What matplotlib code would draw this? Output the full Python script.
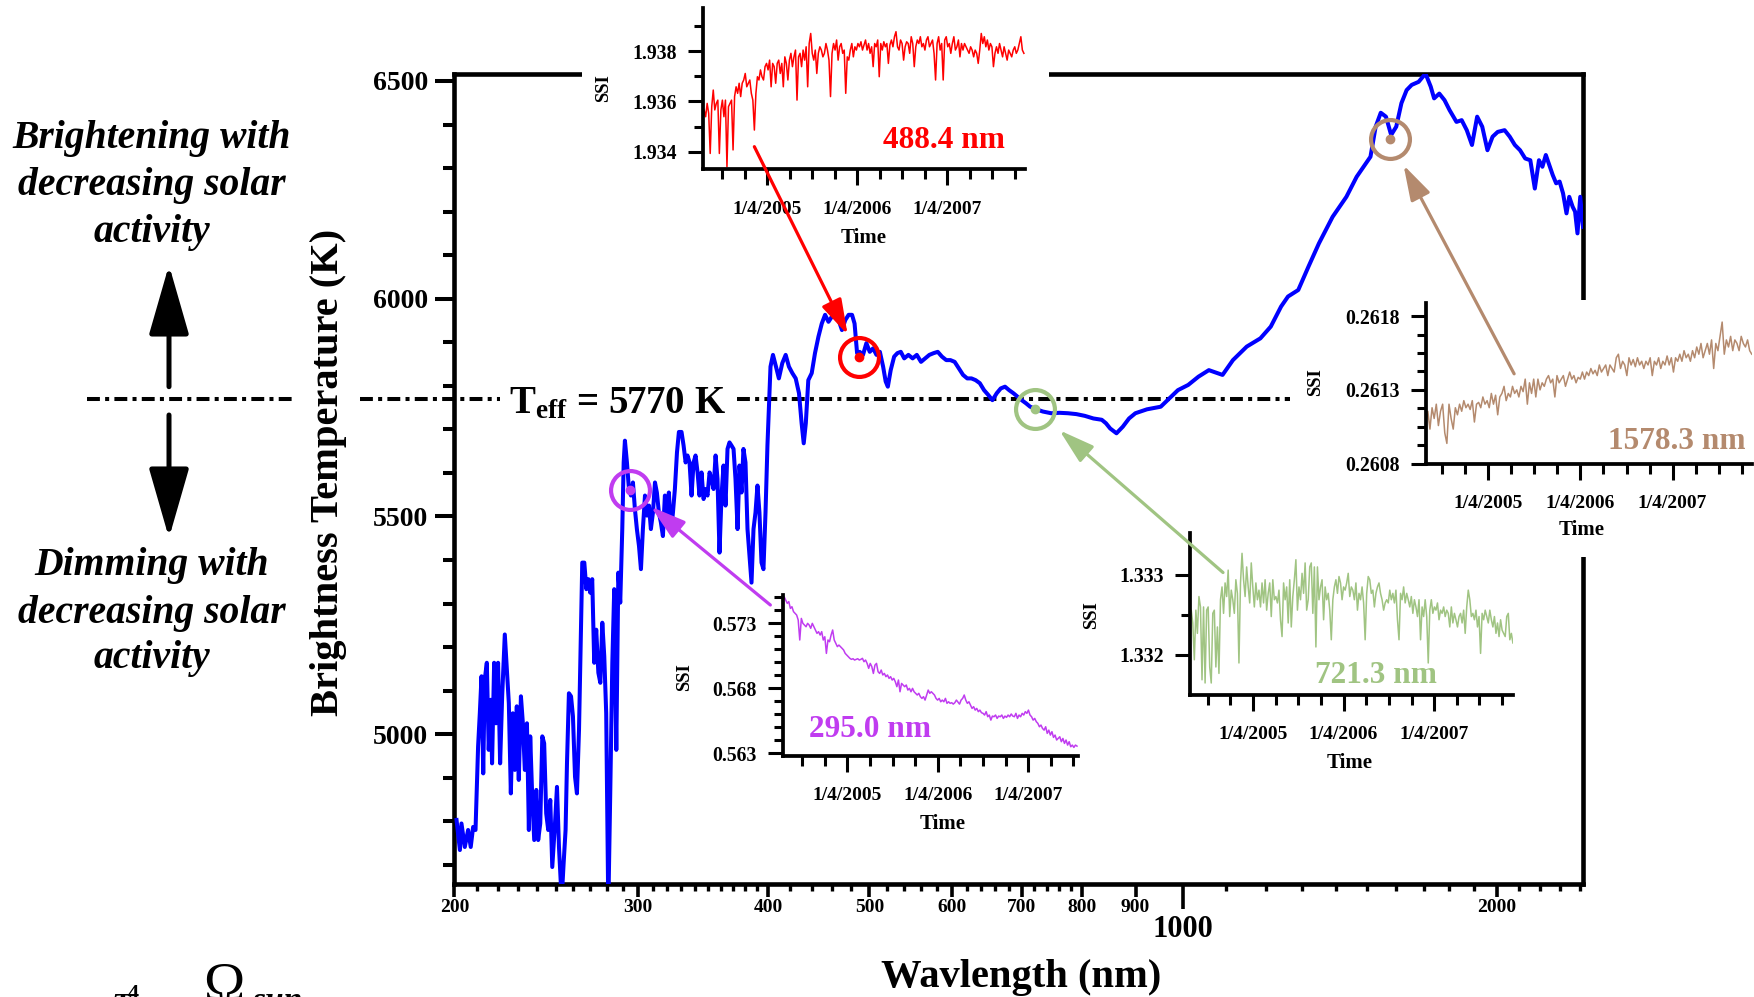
import numpy as np
import matplotlib
matplotlib.use("Agg")
import matplotlib.pyplot as plt
import matplotlib.transforms as mtransforms
from matplotlib.ticker import FixedLocator, MultipleLocator, NullFormatter, NullLocator, FormatStrFormatter
from matplotlib.patches import Rectangle, FancyArrowPatch, ConnectionPatch

plt.rcParams['font.family'] = ['Liberation Serif', 'DejaVu Serif']
plt.rcParams['font.weight'] = 'bold'
plt.rcParams['mathtext.fontset'] = 'custom'
plt.rcParams['mathtext.rm'] = 'Liberation Serif:bold'
plt.rcParams['mathtext.it'] = 'Liberation Serif:italic:bold'
plt.rcParams['mathtext.bf'] = 'Liberation Serif:bold'

# ------------------------------------------------------------------ data
wavelength_nm = [
    200.9, 202.4, 203.1, 204.6, 206.1, 207.3, 208.4, 209.5, 210.7, 211.5, 212.3, 213.1, 213.8, 214.8,
    215.7, 216.7, 217.3, 218.3, 219.2, 220.2, 221.2, 222.2, 223.5, 224.5, 225.5, 226.5, 227.5, 228.5,
    229.5, 230.5, 231.6, 232.6, 233.6, 234.7, 235.7, 236.4, 237.4, 238.5, 239.6, 240.6, 241.7, 242.8,
    243.8, 244.9, 246.0, 247.1, 248.2, 249.7, 250.8, 251.9, 253.4, 254.5, 255.6, 256.4, 257.5, 258.7,
    259.8, 261.0, 262.1, 263.3, 264.4, 265.2, 266.4, 267.6, 268.8, 269.9, 271.1, 272.3, 273.5, 274.8,
    276.0, 277.2, 278.4, 279.6, 280.9, 282.1, 283.4, 284.6, 285.9, 287.2, 288.4, 289.7, 290.6, 291.4,
    292.7, 294.0, 295.3, 296.6, 297.9, 299.2, 300.6, 301.9, 303.2, 304.6, 305.9, 307.3, 308.6, 310.0,
    311.4, 312.7, 314.1, 315.5, 316.9, 318.3, 319.7, 321.1, 322.6, 324.0, 325.4, 326.9, 328.3, 330.2,
    331.7, 333.2, 334.6, 336.1, 337.6, 339.1, 340.6, 342.1, 343.6, 345.1, 346.7, 348.2, 349.7, 351.3,
    352.8, 354.4, 356.0, 357.5, 359.1, 360.7, 362.3, 363.9, 365.5, 367.1, 368.7, 370.4, 372.0, 373.7,
    375.3, 377.0, 378.6, 380.3, 382.0, 383.7, 385.4, 387.1, 388.8, 390.5, 392.2, 394.0, 395.7, 397.5,
    399.2,
    401.9, 404.1, 406.8, 409.4, 412.5, 415.6, 418.6, 421.8, 424.9, 428.0, 430.5, 432.5, 434.5, 436.9,
    440.2, 443.4, 446.8, 450.1, 453.4, 456.8, 460.3, 463.6, 467.1, 470.6, 474.1, 477.6, 481.2, 483.9,
    486.6, 489.4, 493.0, 496.7, 500.4, 504.1, 507.9, 511.7, 515.4, 518.3, 520.8, 524.1, 528.1, 531.9,
    535.9, 540.0, 545.0, 550.1, 555.2, 560.4, 565.6, 570.8, 576.2, 581.5, 586.9, 592.5, 598.0, 603.6,
    609.2, 614.9, 620.6, 626.4, 632.2, 638.1, 644.1, 650.1, 656.1, 662.4, 668.3, 674.6, 680.8, 687.2,
    693.6, 700.0, 706.5, 713.1, 723.1, 733.2, 747.1, 761.1, 775.3, 789.8, 804.6, 820.0, 835.3, 843.1,
    851.0, 862.9, 875.0, 887.2, 899.7,
    923.0, 951.5, 973.4, 988.3, 1011.0, 1034.2, 1058.2, 1090.7, 1116.0, 1150.5, 1185.8, 1213.3,
    1241.2, 1260.3, 1289.2, 1318.8, 1349.4, 1390.8, 1433.8, 1466.7, 1489.2, 1512.1, 1529.5, 1546.9,
    1564.7, 1582.8, 1600.7, 1619.1, 1637.8, 1656.3, 1681.8, 1707.6, 1727.3, 1740.3, 1760.3, 1780.7,
    1800.8, 1828.4, 1849.5, 1870.5, 1892.1, 1913.9, 1935.5, 1957.9, 1980.2, 2002.6, 2033.4, 2056.8,
    2080.0, 2104.0, 2128.2, 2152.3, 2173.8, 2193.8, 2210.5, 2227.3, 2244.3, 2261.5, 2278.7, 2296.1,
    2313.6, 2331.3, 2345.5, 2363.3, 2375.9, 2388.6, 2403.2, 2417.9,
]
brightness_temp_K = [
    4803, 4734, 4795, 4741, 4780, 4741, 4787, 4780, 4972, 5048, 5133, 4910, 5125, 5164,
    4964, 5079, 4933, 5164, 5025, 5164, 4933, 5087, 5229, 5148, 5071, 4864, 5048, 4918,
    5064, 4895, 5087, 5025, 4918, 5025, 4780, 4995, 4864, 4757, 4872, 4757, 4795, 4995,
    4979, 4818, 4780, 4849, 4695, 4795, 4879, 4741, 4620, 4703, 4780, 4933, 5094, 5087,
    5041, 4902, 4864, 5010, 5240, 5394, 5394, 5333, 5356, 5325, 5356, 5164, 5240, 5141,
    5118, 5256, 5179, 5048, 4600, 4864, 5164, 5333, 4964, 5371, 5302, 5471, 5624, 5674,
    5624, 5563, 5548, 5578, 5517, 5471, 5432, 5379, 5471, 5548, 5502, 5525, 5471, 5509,
    5578, 5555, 5509, 5486, 5455, 5548, 5502, 5555, 5463, 5509, 5563, 5647, 5694, 5694,
    5663, 5624, 5640, 5624, 5548, 5624, 5640, 5601, 5548, 5601, 5540, 5563, 5548, 5601,
    5586, 5563, 5640, 5586, 5417, 5548, 5617, 5525, 5655, 5670, 5663, 5655, 5586, 5471,
    5617, 5555, 5655, 5624, 5471, 5409, 5348, 5471, 5509, 5571, 5509, 5394, 5379, 5509,
    5663,
    5844, 5871, 5844, 5817, 5852, 5871, 5844, 5829, 5817, 5783, 5714, 5668, 5714, 5813,
    5829, 5875, 5913, 5943, 5963, 5947, 5959, 5963, 5951, 5928, 5951, 5963, 5963, 5943,
    5875, 5878, 5871, 5898, 5878, 5886, 5871, 5878, 5844, 5810, 5798, 5836, 5867, 5875,
    5878, 5863, 5871, 5863, 5871, 5855, 5863, 5871, 5875, 5878, 5867, 5859, 5859, 5855,
    5840, 5825, 5817, 5817, 5813, 5806, 5790, 5779, 5767, 5783, 5794, 5798, 5790, 5783,
    5775, 5767, 5760, 5752, 5746, 5741, 5737, 5738, 5737, 5735, 5731, 5725, 5722, 5714,
    5702, 5691, 5706, 5725, 5737,
    5746, 5752, 5775, 5790, 5802, 5821, 5836, 5825, 5859, 5890, 5909, 5936,
    5982, 6005, 6020, 6074, 6127, 6188, 6234, 6280, 6303, 6326, 6395, 6427,
    6418, 6376, 6395, 6449, 6479, 6491, 6498, 6517, 6487, 6460, 6471, 6456,
    6433, 6406, 6410, 6387, 6353, 6418, 6395, 6341, 6372, 6383, 6387, 6372,
    6353, 6341, 6322, 6318, 6253, 6318, 6303, 6330, 6307, 6284, 6265, 6269,
    6242, 6196, 6234, 6211, 6200, 6150, 6234, 6165,
]
T_eff = 5770

x_labeled_ticks = [200, 300, 400, 500, 600, 700, 800, 900, 2000]
x_labeled_text = ['200', '300', '400', '500', '600', '700', '800', '900', '2000']
x_big_tick = [1000]
x_minor_ticks = [210, 220, 230, 240, 250, 260, 270, 280, 290,
                 310, 320, 330, 340, 350, 360, 370, 380, 390,
                 420, 440, 460, 480, 520, 540, 560, 580, 620, 640, 660, 680,
                 720, 740, 760, 780,
                 1100, 1200, 1300, 1400, 1500, 1600, 1700, 1800, 1900, 2100, 2200, 2300, 2400]

# sampled wavelengths (circles on the spectrum)
sample_wl = [295.0, 488.4, 721.3, 1578.3]
sample_T = [5561, 5866, 5746, 6366]
sample_names = ['295.0 nm', '488.4 nm', '721.3 nm', '1578.3 nm']
sample_colors = ['#C03CF0', '#FF0000', '#A0C482', '#B48A6E']

time_ticks = [2005, 2006, 2007]
time_labels = ['1/4/2005', '1/4/2006', '1/4/2007']

ssi_295_span = (2004.30, 2007.54)
ssi_295 = [
    .57505, .57479, .57454, .57467, .57415, .57428, .57390, .57377, .57364, .57326, .57172, .57338,
    .57300, .57287, .57274, .57300, .57287, .57262, .57300, .57274, .57249, .57223, .57236, .57210,
    .57236, .57172, .57197, .57069, .57172, .57159, .57210, .57249, .57172, .57146, .57121, .57133,
    .57121, .57108, .57095, .57069, .57056, .57044, .57031, .57023, .57028, .57018, .57023, .57028,
    .57018, .57023, .57031, .57005, .57018, .56992, .56954, .56992, .56967, .56915, .56979, .56992,
    .56928, .56915, .56941, .56903, .56915, .56890, .56903, .56877, .56890, .56864, .56877, .56851,
    .56813, .56864, .56774, .56838, .56826, .56813, .56826, .56787, .56800, .56774, .56800, .56774,
    .56762, .56749, .56762, .56736, .56723, .56736, .56710, .56749, .56787, .56762, .56774, .56762,
    .56749, .56723, .56710, .56723, .56697, .56710, .56697, .56723, .56685, .56697, .56685, .56690,
    .56679, .56690, .56710, .56695, .56679, .56710, .56723, .56749, .56710, .56685, .56697, .56672,
    .56646, .56659, .56633, .56646, .56621, .56633, .56613, .56608, .56595, .56621, .56582, .56595,
    .56556, .56587, .56582, .56595, .56569, .56587, .56582, .56595, .56569, .56587, .56577, .56595,
    .56582, .56603, .56587, .56582, .56608, .56569, .56595, .56582, .56608, .56595, .56621, .56608,
    .56633, .56595, .56582, .56556, .56569, .56544, .56531, .56505, .56518, .56492, .56479, .56505,
    .56454, .56479, .56441, .56467, .56423, .56441, .56403, .56415, .56428, .56390, .56415, .56377,
    .56403, .56364, .56390, .56351, .56364, .56346, .56364, .56356,
]

ssi_488_span = (2004.28, 2007.85)
ssi_488 = [
    1.93513, 1.93566, 1.93539, 1.93592, 1.93552, 1.93393, 1.93579, 1.93645, 1.93566, 1.93592,
    1.93605, 1.93393, 1.93566, 1.93605, 1.93539, 1.93605, 1.93340, 1.93579, 1.93592, 1.93605,
    1.93407, 1.93619, 1.93658, 1.93632, 1.93672, 1.93619, 1.93672, 1.93685, 1.93711, 1.93658,
    1.93672, 1.93685, 1.93632, 1.93605, 1.93486, 1.93632, 1.93698, 1.93685, 1.93725, 1.93698,
    1.93685, 1.93738, 1.93751, 1.93725, 1.93764, 1.93658, 1.93751, 1.93738, 1.93672, 1.93751,
    1.93764, 1.93711, 1.93751, 1.93658, 1.93777, 1.93751, 1.93685, 1.93764, 1.93791, 1.93738,
    1.93777, 1.93804, 1.93605, 1.93777, 1.93791, 1.93738, 1.93804, 1.93764, 1.93817, 1.93658,
    1.93830, 1.93870, 1.93791, 1.93764, 1.93804, 1.93711, 1.93791, 1.93817, 1.93804, 1.93777,
    1.93791, 1.93830, 1.93804, 1.93764, 1.93619, 1.93791, 1.93830, 1.93804, 1.93844, 1.93764,
    1.93817, 1.93830, 1.93791, 1.93804, 1.93632, 1.93777, 1.93764, 1.93804, 1.93830, 1.93777,
    1.93817, 1.93804, 1.93830, 1.93817, 1.93837, 1.93804, 1.93824, 1.93844, 1.93804, 1.93830,
    1.93791, 1.93817, 1.93738, 1.93830, 1.93817, 1.93844, 1.93698, 1.93830, 1.93804, 1.93837,
    1.93817, 1.93830, 1.93751, 1.93824, 1.93844, 1.93817, 1.93857, 1.93877, 1.93817, 1.93804,
    1.93844, 1.93830, 1.93764, 1.93817, 1.93837, 1.93830, 1.93791, 1.93857, 1.93830, 1.93738,
    1.93817, 1.93844, 1.93830, 1.93857, 1.93817, 1.93830, 1.93804, 1.93844, 1.93857, 1.93817,
    1.93830, 1.93844, 1.93791, 1.93685, 1.93830, 1.93857, 1.93804, 1.93830, 1.93685, 1.93844,
    1.93857, 1.93817, 1.93830, 1.93791, 1.93830, 1.93857, 1.93804, 1.93817, 1.93844, 1.93777,
    1.93830, 1.93804, 1.93830, 1.93817, 1.93804, 1.93791, 1.93817, 1.93804, 1.93777, 1.93804,
    1.93791, 1.93751, 1.93804, 1.93870, 1.93830, 1.93857, 1.93817, 1.93844, 1.93804, 1.93830,
    1.93817, 1.93738, 1.93791, 1.93817, 1.93791, 1.93830, 1.93804, 1.93777, 1.93817, 1.93791,
    1.93764, 1.93804, 1.93791, 1.93777, 1.93804, 1.93817, 1.93791, 1.93804, 1.93830, 1.93857,
    1.93804, 1.93791,
]

ssi_721_span = (2004.30, 2007.87)
ssi_721 = [
    1.33244, 1.33256, 1.33240, 1.33194, 1.33256, 1.33227, 1.33273, 1.33260, 1.33169, 1.33260,
    1.33165, 1.33256, 1.33260, 1.33185, 1.33165, 1.33252, 1.33256, 1.33185, 1.33235, 1.33177,
    1.33269, 1.33285, 1.33252, 1.33290, 1.33273, 1.33306, 1.33248, 1.33281, 1.33269, 1.33252,
    1.33294, 1.33277, 1.33190, 1.33290, 1.33327, 1.33294, 1.33273, 1.33310, 1.33285, 1.33265,
    1.33315, 1.33285, 1.33260, 1.33290, 1.33269, 1.33281, 1.33260, 1.33290, 1.33265, 1.33294,
    1.33256, 1.33277, 1.33290, 1.33248, 1.33294, 1.33269, 1.33273, 1.33265, 1.33281, 1.33244,
    1.33223, 1.33290, 1.33269, 1.33285, 1.33240, 1.33294, 1.33235, 1.33273, 1.33294, 1.33319,
    1.33256, 1.33285, 1.33269, 1.33302, 1.33277, 1.33315, 1.33256, 1.33269, 1.33310, 1.33315,
    1.33252, 1.33310, 1.33210, 1.33310, 1.33269, 1.33285, 1.33294, 1.33244, 1.33285, 1.33269,
    1.33277, 1.33256, 1.33219, 1.33269, 1.33285, 1.33294, 1.33277, 1.33298, 1.33290, 1.33269,
    1.33285, 1.33281, 1.33290, 1.33302, 1.33273, 1.33285, 1.33281, 1.33269, 1.33290, 1.33256,
    1.33277, 1.33269, 1.33285, 1.33265, 1.33219, 1.33277, 1.33298, 1.33294, 1.33277, 1.33281,
    1.33260, 1.33277, 1.33285, 1.33290, 1.33277, 1.33269, 1.33256, 1.33265, 1.33269, 1.33265,
    1.33281, 1.33269, 1.33277, 1.33265, 1.33281, 1.33244, 1.33219, 1.33277, 1.33269, 1.33285,
    1.33265, 1.33277, 1.33269, 1.33260, 1.33273, 1.33252, 1.33269, 1.33260, 1.33248, 1.33269,
    1.33219, 1.33260, 1.33248, 1.33269, 1.33248, 1.33190, 1.33256, 1.33269, 1.33252, 1.33260,
    1.33256, 1.33265, 1.33244, 1.33256, 1.33252, 1.33260, 1.33248, 1.33256, 1.33252, 1.33235,
    1.33260, 1.33240, 1.33252, 1.33244, 1.33235, 1.33248, 1.33252, 1.33240, 1.33256, 1.33227,
    1.33260, 1.33281, 1.33269, 1.33248, 1.33252, 1.33244, 1.33256, 1.33235, 1.33248, 1.33202,
    1.33252, 1.33244, 1.33256, 1.33248, 1.33240, 1.33256, 1.33244, 1.33235, 1.33248, 1.33227,
    1.33240, 1.33223, 1.33244, 1.33231, 1.33227, 1.33223, 1.33248, 1.33252, 1.33219, 1.33227,
    1.33215,
]

ssi_1578_span = (2004.32, 2007.86)
ssi_1578 = [
    0.261082, 0.261155, 0.261034, 0.261179, 0.261106, 0.261203, 0.261058, 0.261155, 0.261203, 0.261009,
    0.260937, 0.261203, 0.261106, 0.261034, 0.261179, 0.261131, 0.261203, 0.261155, 0.261227, 0.261179,
    0.261203, 0.261167, 0.261227, 0.261082, 0.261203, 0.261215, 0.261179, 0.261252, 0.261203, 0.261227,
    0.261179, 0.261276, 0.261203, 0.261264, 0.261131, 0.261252, 0.261276, 0.261324, 0.261227, 0.261276,
    0.261252, 0.261324, 0.261276, 0.261300, 0.261252, 0.261324, 0.261288, 0.261373, 0.261203, 0.261348,
    0.261276, 0.261373, 0.261252, 0.261373, 0.261300, 0.261348, 0.261324, 0.261373, 0.261397, 0.261348,
    0.261373, 0.261252, 0.261397, 0.261348, 0.261373, 0.261397, 0.261324, 0.261373, 0.261421, 0.261373,
    0.261397, 0.261348, 0.261385, 0.261373, 0.261421, 0.261373, 0.261421, 0.261397, 0.261445, 0.261409,
    0.261433, 0.261397, 0.261469, 0.261421, 0.261445, 0.261469, 0.261397, 0.261469, 0.261445, 0.261421,
    0.261518, 0.261542, 0.261445, 0.261494, 0.261469, 0.261397, 0.261518, 0.261469, 0.261506, 0.261457,
    0.261518, 0.261469, 0.261494, 0.261445, 0.261494, 0.261469, 0.261518, 0.261397, 0.261494, 0.261469,
    0.261518, 0.261445, 0.261494, 0.261469, 0.261530, 0.261469, 0.261518, 0.261421, 0.261518, 0.261494,
    0.261542, 0.261494, 0.261566, 0.261518, 0.261542, 0.261494, 0.261566, 0.261518, 0.261591, 0.261542,
    0.261615, 0.261518, 0.261566, 0.261615, 0.261542, 0.261639, 0.261445, 0.261615, 0.261566, 0.261663,
    0.261760, 0.261542, 0.261639, 0.261591, 0.261663, 0.261566, 0.261639, 0.261615, 0.261566, 0.261663,
    0.261615, 0.261591, 0.261639, 0.261566, 0.261542,
]

# ------------------------------------------------------------------ layout helpers
W, H = 1754, 997


def box(l, t, r, b):
    return [l / W, 1 - b / H, (r - l) / W, (b - t) / H]


fig = plt.figure(figsize=(W / 100, H / 100), dpi=100)
fig.patch.set_facecolor('white')

# ------------------------------------------------------------------ main axes
ax = fig.add_axes(box(454.5, 74, 1583.4, 884))
ax.set_zorder(0)
ax.patch.set_visible(False)
ax.plot(wavelength_nm, brightness_temp_K, color='#0000FF', lw=2.9, solid_joinstyle='round', zorder=3)
ax.set_xscale('log')
ax.set_xlim(200, 2420)
ax.set_ylim(4656, 6516)

ax.xaxis.set_major_locator(FixedLocator(x_labeled_ticks))
ax.set_xticklabels(x_labeled_text)
ax.xaxis.set_minor_locator(FixedLocator(x_minor_ticks))
ax.xaxis.set_minor_formatter(NullFormatter())
ax.tick_params(axis='x', which='major', direction='out', length=9, width=2.6, labelsize=14, pad=2)
ax.tick_params(axis='x', which='minor', direction='out', length=5, width=2.4)
ax.yaxis.set_major_locator(MultipleLocator(500))
ax.yaxis.set_minor_locator(MultipleLocator(100))
ax.tick_params(axis='y', which='major', direction='out', length=14, width=2.9, labelsize=20, pad=5)
ax.tick_params(axis='y', which='minor', direction='out', length=8, width=2.9)
for s in ax.spines.values():
    s.set_linewidth(3.3)

sec = ax.secondary_xaxis('bottom')
sec.set_xticks(x_big_tick, labels=[str(v) for v in x_big_tick])
sec.xaxis.set_minor_locator(NullLocator())
sec.tick_params(axis='x', which='major', direction='out', length=18, width=2.6, labelsize=22, pad=4)
sec.spines['bottom'].set_visible(False)

ax.text(-0.112, 0.5086, 'Brightness Temperature (K)', rotation=90, ha='center', va='center',
        fontsize=29.2, transform=ax.transAxes)
ax.text(0.502, -0.1155, 'Wavlength (nm)', ha='center', va='center', fontsize=29.2,
        transform=ax.transAxes)

# T_eff reference line (dash-dot, partly outside the axes)
trans_teff = mtransforms.blended_transform_factory(ax.transAxes, ax.transData)
for x0, x1 in [(-0.3255, -0.1404), (-0.0837, 0.0403), (0.2502, 0.7401)]:
    ax.plot([x0, x1], [T_eff, T_eff], transform=trans_teff, clip_on=False, color='black',
            lw=2.9, linestyle=(0, (3.2, 1.3, 1.0, 1.3)), solid_capstyle='butt', zorder=2)
ax.text(0.144, 0.5815, r'T$_{\mathrm{eff}}$ = %d K' % T_eff, ha='center', va='baseline',
        fontsize=28, transform=ax.transAxes)

# circles on the spectrum
for wl, tb, c in zip(sample_wl, sample_T, sample_colors):
    ax.plot([wl], [tb], 'o', ms=28, mfc='none', mec=c, mew=3.0, zorder=5)
    ax.plot([wl], [tb], 'o', ms=6, color=c, zorder=5)

# ------------------------------------------------------------------ white backgrounds for insets
for (l, t, r, b) in [(582, 0, 1049, 250), (670, 590, 1090, 840), (1080, 525, 1520, 780), (1300, 300, 1754, 557)]:
    fig.add_artist(Rectangle((l / W, 1 - b / H), (r - l) / W, (b - t) / H, transform=fig.transFigure,
                             facecolor='white', edgecolor='none', zorder=1))


# ------------------------------------------------------------------ insets
def make_inset(bx, values, span, xlim, ylim, color, ymaj, ymin, yfmt, name, name_xy, ssi_xy, time_xy):
    a = fig.add_axes(bx)
    a.set_zorder(2)
    a.patch.set_visible(False)
    t = np.linspace(span[0], span[1], len(values))
    a.plot(t, values, color=color, lw=1.1)
    a.set_xlim(*xlim)
    a.set_ylim(*ylim)
    a.spines['top'].set_visible(False)
    a.spines['right'].set_visible(False)
    a.spines['left'].set_linewidth(2.7)
    a.spines['bottom'].set_linewidth(2.7)
    a.set_xticks(time_ticks, labels=time_labels)
    a.xaxis.set_minor_locator(MultipleLocator(0.25))
    a.yaxis.set_major_locator(FixedLocator(ymaj))
    a.yaxis.set_major_formatter(FormatStrFormatter(yfmt))
    a.yaxis.set_minor_locator(FixedLocator(ymin))
    a.tick_params(axis='x', which='major', length=11.5, width=2.2, labelsize=14, pad=11)
    a.tick_params(axis='x', which='minor', length=7.5, width=2.2)
    a.tick_params(axis='y', which='major', length=10.8, width=2.2, labelsize=14.2, pad=8)
    a.tick_params(axis='y', which='minor', length=6.5, width=2.2)
    a.text(name_xy[0], name_xy[1], name, color=color, fontsize=22.5, ha='center', va='baseline',
           transform=a.transAxes)
    a.text(ssi_xy[0], ssi_xy[1], 'SSI', rotation=90, ha='center', va='center', fontsize=13.5,
           transform=a.transAxes)
    a.text(time_xy[0], time_xy[1], 'Time', ha='center', va='center', fontsize=15,
           transform=a.transAxes)
    return a


ax_red = make_inset(box(702.6, 8.3, 1024.8, 169.3), ssi_488, ssi_488_span, (2004.28, 2007.86),
                    (1.93330, 1.93970), sample_colors[1], [1.934, 1.936, 1.938], [1.935, 1.937, 1.939],
                    '%.3f', sample_names[1], (0.749, 0.132), (-0.306, 0.505), (0.4997, -0.425))
ax_mag = make_inset(box(783.2, 595, 1077.9, 756), ssi_295, ssi_295_span, (2004.29, 2007.55),
                    (0.56280, 0.57518), sample_colors[0], [0.563, 0.568, 0.573],
                    [0.564, 0.565, 0.566, 0.567, 0.569, 0.570, 0.571, 0.572, 0.574, 0.575],
                    '%.3f', sample_names[0], (0.2945, 0.120), (-0.335, 0.4925), (0.542, -0.421))
ax_grn = make_inset(box(1189.7, 533.3, 1512.9, 695), ssi_721, ssi_721_span, (2004.30, 2007.87),
                    (1.33150, 1.33352), sample_colors[2], [1.332, 1.333], [1.3325],
                    '%.3f', sample_names[2], (0.5765, 0.074), (-0.305, 0.495), (0.496, -0.423))
ax_brn = make_inset(box(1425.7, 302.9, 1751.8, 463.6), ssi_1578, ssi_1578_span, (2004.32, 2007.86),
                    (0.26080, 0.26189), sample_colors[3], [0.2608, 0.2613, 0.2618],
                    [0.260925, 0.26105, 0.261175, 0.261425, 0.26155, 0.261675],
                    '%.4f', sample_names[3], (0.771, 0.091), (-0.339, 0.508), (0.478, -0.412))

# ------------------------------------------------------------------ arrows inset -> circle
arrow_tails = [(ax_mag, (2004.148, 0.57441), 19),
               (ax_red, (2004.855, 1.93420), 18),
               (ax_grn, (2004.668, 1.33303), 23),
               (ax_brn, (2005.28, 0.261409), 21)]
for (a, tail, shr), wl, tb, c in zip(arrow_tails, sample_wl, sample_T, sample_colors):
    cp = ConnectionPatch(xyA=tail, coordsA=a.transData, xyB=(wl, tb), coordsB=ax.transData,
                         arrowstyle='-|>,head_length=0.8,head_width=0.24', mutation_scale=27,
                         color=c, lw=2.3, shrinkA=0, shrinkB=shr, zorder=6)
    fig.add_artist(cp)

# ------------------------------------------------------------------ left annotations
for txt, ypx in [('Brightening with', 148), ('decreasing solar', 195), ('activity', 241.7),
                 ('Dimming with', 575), ('decreasing solar', 622.7), ('activity', 668)]:
    fig.text(152 / W, 1 - ypx / H, txt, ha='center', va='baseline', fontsize=28.5,
             fontstyle='italic', fontweight='bold')

for y0, y1 in [(386.7, 265), (415, 538)]:
    fig.add_artist(FancyArrowPatch((169 / W, 1 - y0 / H), (169 / W, 1 - y1 / H), transform=fig.transFigure,
                                   arrowstyle='-|>,head_length=1.6,head_width=0.46', mutation_scale=27,
                                   color='black', lw=3.6, shrinkA=0, shrinkB=0, zorder=3))

# formula fragment cut by the bottom edge (as in the source image)
fig.text(112 / W, 1 - 993 / H, 'T', fontsize=22, fontstyle='italic', fontweight='bold', va='top', ha='left')
fig.text(128 / W, 1 - 984 / H, '4', fontsize=16, fontweight='bold', va='top', ha='left')
fig.text(203 / W, 1 - 962 / H, '\u03a9', fontsize=40, fontweight='normal', va='top', ha='left')
fig.text(252 / W, 1 - 986 / H, 'sun', fontsize=24, fontstyle='italic', fontweight='bold', va='top', ha='left')

fig.savefig('out.png', dpi=100, facecolor='white')
